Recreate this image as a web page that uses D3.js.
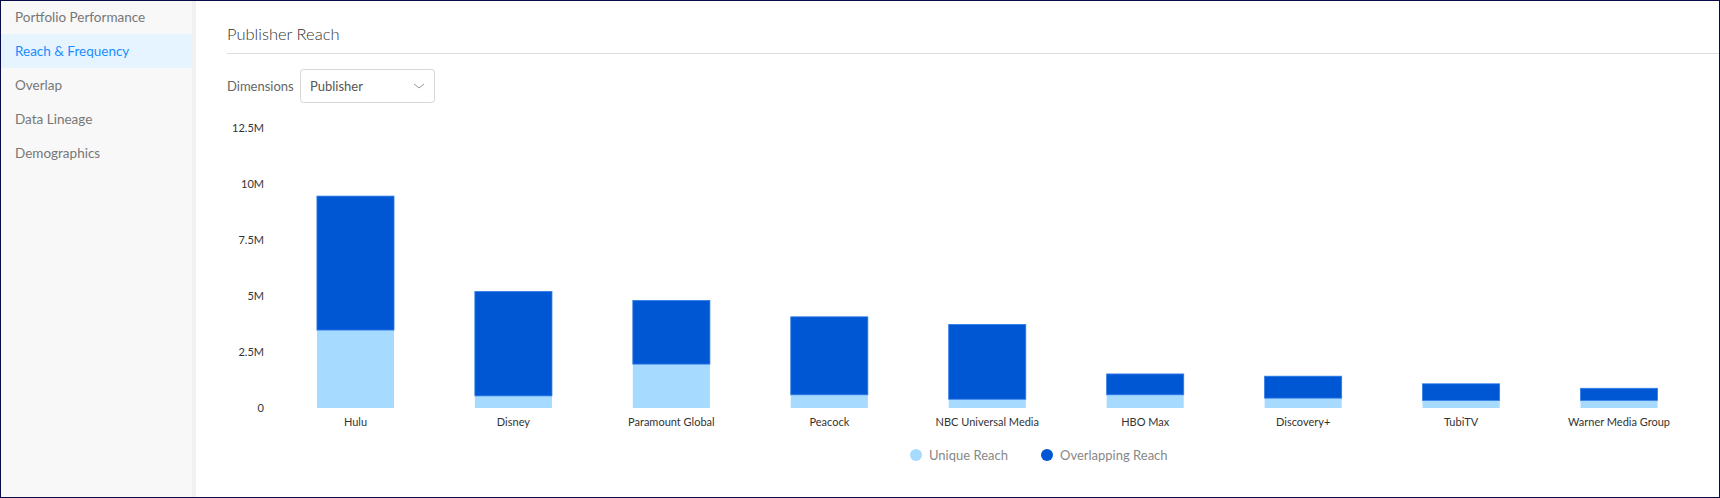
<!DOCTYPE html>
<html>
<head>
<meta charset="utf-8">
<script src="https://cdn.jsdelivr.net/npm/d3@7"></script>
<style>
  body { margin: 0; font-family: Lato, "Noto Sans", sans-serif; background: #fff; }
</style>
</head>
<body>
<svg id="chart" width="1720" height="498"></svg>
<script>
// data
var publishers = ['Hulu', 'Disney', 'Paramount Global', 'Peacock', 'NBC Universal Media',
    'HBO Max', 'Discovery+', 'TubiTV', 'Warner Media Group'];
var uniqueReach = [3.48, 0.54, 1.96, 0.59, 0.39, 0.59, 0.44, 0.34, 0.34];
var overlappingReach = [5.98, 4.66, 2.84, 3.48, 3.34, 0.93, 0.98, 0.74, 0.54];
var yTicks = [0, 2.5, 5, 7.5, 10, 12.5];
var tickLabels = ['0', '2.5M', '5M', '7.5M', '10M', '12.5M'];
var menuItems = ['Portfolio Performance', 'Reach & Frequency', 'Overlap', 'Data Lineage', 'Demographics'];

var svg = d3.select('#chart');
var W = 1720, H = 498;

// sidebar
svg.append('rect').attr('x', 0).attr('y', 0).attr('width', 192).attr('height', H).attr('fill', '#f8f8f8');
svg.append('rect').attr('x', 192).attr('y', 0).attr('width', 4).attr('height', H).attr('fill', '#f1f1f1');
svg.append('rect').attr('x', 1).attr('y', 34).attr('width', 191).attr('height', 34).attr('fill', '#e6f4ff');
menuItems.forEach(function(m, i) {
    svg.append('text').attr('x', 15).attr('y', 22 + i * 34)
        .attr('font-size', 13.5).attr('fill', i == 1 ? '#1a8cff' : '#777').text(m);
});

// header
svg.append('text').attr('x', 227).attr('y', 40).attr('font-size', 16.5).attr('font-weight', 300)
    .attr('fill', '#333').text('Publisher Reach');
svg.append('line').attr('x1', 227).attr('x2', W).attr('y1', 53.5).attr('y2', 53.5).attr('stroke', '#ddd');
svg.append('text').attr('x', 227).attr('y', 91).attr('font-size', 13).attr('fill', '#666').text('Dimensions');
svg.append('rect').attr('x', 300.5).attr('y', 69.5).attr('width', 134).attr('height', 33).attr('rx', 3)
    .attr('fill', '#fff').attr('stroke', '#d6d6d6');
svg.append('text').attr('x', 310).attr('y', 91).attr('font-size', 13).attr('fill', '#555').text('Publisher');
svg.append('path').attr('d', 'M414,84 l5,4 l5,-4').attr('fill', 'none').attr('stroke', '#999');

// scales
var x = d3.scaleBand().domain(publishers).range([276.5, 1698]).paddingInner(0.512).paddingOuter(0.256);
var y = d3.scaleLinear().domain([0, 12.5]).range([408, 128]);

var yAxis = d3.axisLeft(y).tickValues(yTicks).tickSize(0).tickPadding(0)
    .tickFormat(function(d, i) { return tickLabels[i]; });
var gy = svg.append('g').attr('transform', 'translate(264,0)').call(yAxis);
gy.select('.domain').remove();
gy.selectAll('text').attr('font-size', 11).attr('fill', '#333').attr('font-family', 'Lato, sans-serif');

var xAxis = d3.axisBottom(x).tickSize(0).tickPadding(10);
var gx = svg.append('g').attr('transform', 'translate(0,408)').call(xAxis);
gx.select('.domain').remove();
gx.selectAll('text').attr('font-size', 11).attr('fill', '#333').attr('font-family', 'Lato, sans-serif');

// bars
var rows = publishers.map(function(p, i) { return { p: p, u: uniqueReach[i], o: overlappingReach[i] }; });
svg.append('g').selectAll('rect').data(rows).enter().append('rect')
    .attr('x', function(d) { return x(d.p); }).attr('width', x.bandwidth())
    .attr('y', function(d) { return y(d.u); })
    .attr('height', function(d) { return y(0) - y(d.u); })
    .attr('fill', '#a6dbff');
svg.append('g').selectAll('rect').data(rows).enter().append('rect')
    .attr('x', function(d) { return x(d.p); }).attr('width', x.bandwidth())
    .attr('y', function(d) { return y(d.u + d.o); })
    .attr('height', function(d) { return y(d.u) - y(d.u + d.o); })
    .attr('fill', '#0057d4').attr('stroke', '#2f7be6').attr('stroke-width', 0.8);

// legend
var legend = [['Unique Reach', '#a6dbff', 916], ['Overlapping Reach', '#0057d4', 1047]];
legend.forEach(function(l) {
    svg.append('circle').attr('cx', l[2]).attr('cy', 455).attr('r', 6).attr('fill', l[1]);
    svg.append('text').attr('x', l[2] + 13).attr('y', 460).attr('font-size', 13).attr('fill', '#888').text(l[0]);
});

// outer frame
svg.append('rect').attr('x', 0.5).attr('y', 0.5).attr('width', W - 1).attr('height', H - 1)
    .attr('fill', 'none').attr('stroke', '#0b0b4a');
</script>
</body>
</html>
